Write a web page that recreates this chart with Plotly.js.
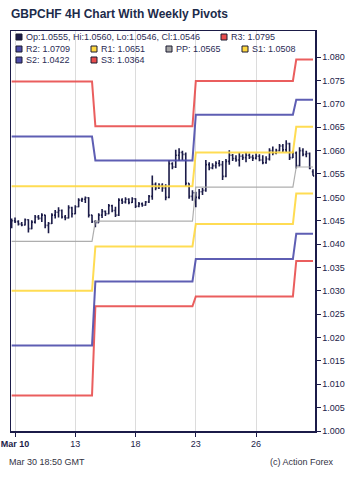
<!DOCTYPE html>
<html>
<head>
<meta charset="utf-8">
<script src="https://cdn.plot.ly/plotly-3.0.1.min.js"></script>
<style>html,body{margin:0;padding:0;background:#fff;}#chart{width:350px;height:481px;}</style>
</head>
<body>
<div id="chart"></div>
<script>
// ---- Data (GBPCHF 4H bars, first bar = Mar 9 20:00, index 0 = Mar 10 00:00) ----
var firstBarIndex = -1;
var opens = [1.0438,1.0450,1.0448,1.0443,1.0441,1.0452,1.0433,1.0447,1.0458,1.0455,1.0462,1.0440,1.0444,1.0462,1.0468,1.0472,1.0458,1.0456,1.0478,1.0465,1.0480,1.0494,1.0496,1.0499,1.0462,1.0448,1.0446,1.0462,1.0470,1.0465,1.0482,1.0472,1.0462,1.0494,1.0490,1.0496,1.0489,1.0497,1.0481,1.0486,1.0483,1.0490,1.0502,1.0528,1.0520,1.0526,1.0520,1.0500,1.0572,1.0565,1.0590,1.0596,1.0592,1.0530,1.0502,1.0510,1.0500,1.0512,1.0515,1.0570,1.0563,1.0568,1.0573,1.0570,1.0545,1.0577,1.0590,1.0583,1.0580,1.0588,1.0585,1.0590,1.0586,1.0584,1.0588,1.0580,1.0574,1.0582,1.0600,1.0595,1.0600,1.0610,1.0602,1.0615,1.0585,1.0595,1.0568,1.0600,1.0592,1.0594,1.0555];
var highs = [1.0455,1.0457,1.0451,1.0447,1.0455,1.0453,1.0451,1.0462,1.0462,1.0466,1.0463,1.0447,1.0466,1.0473,1.0479,1.0474,1.0462,1.0483,1.0480,1.0483,1.0498,1.0499,1.0502,1.0500,1.0463,1.0451,1.0466,1.0475,1.0472,1.0486,1.0484,1.0480,1.0498,1.0498,1.0500,1.0498,1.0500,1.0498,1.0490,1.0489,1.0492,1.0505,1.0547,1.0532,1.0530,1.0530,1.0528,1.0580,1.0575,1.0602,1.0605,1.0600,1.0596,1.0530,1.0515,1.0512,1.0518,1.0520,1.0580,1.0575,1.0573,1.0577,1.0580,1.0578,1.0582,1.0601,1.0593,1.0590,1.0596,1.0592,1.0596,1.0594,1.0591,1.0594,1.0592,1.0590,1.0588,1.0605,1.0609,1.0604,1.0614,1.0614,1.0622,1.0617,1.0600,1.0598,1.0607,1.0605,1.0600,1.0596,1.0560];
var lows = [1.0434,1.0445,1.0440,1.0438,1.0440,1.0425,1.0432,1.0444,1.0452,1.0447,1.0434,1.0423,1.0443,1.0455,1.0457,1.0455,1.0451,1.0455,1.0457,1.0464,1.0479,1.0490,1.0488,1.0457,1.0445,1.0436,1.0446,1.0456,1.0460,1.0464,1.0468,1.0458,1.0460,1.0486,1.0487,1.0485,1.0488,1.0477,1.0479,1.0480,1.0482,1.0488,1.0495,1.0515,1.0518,1.0512,1.0494,1.0498,1.0560,1.0563,1.0578,1.0580,1.0524,1.0497,1.0493,1.0479,1.0496,1.0505,1.0512,1.0558,1.0560,1.0562,1.0566,1.0537,1.0543,1.0570,1.0578,1.0576,1.0566,1.0580,1.0575,1.0582,1.0578,1.0581,1.0577,1.0571,1.0572,1.0579,1.0590,1.0592,1.0598,1.0597,1.0597,1.0580,1.0584,1.0562,1.0566,1.0588,1.0586,1.0560,1.0546];
var closes = [1.0450,1.0448,1.0443,1.0441,1.0452,1.0433,1.0447,1.0458,1.0455,1.0462,1.0440,1.0444,1.0462,1.0468,1.0472,1.0458,1.0456,1.0478,1.0465,1.0480,1.0494,1.0496,1.0499,1.0462,1.0448,1.0446,1.0462,1.0470,1.0465,1.0482,1.0472,1.0462,1.0494,1.0490,1.0496,1.0489,1.0497,1.0481,1.0486,1.0483,1.0490,1.0502,1.0528,1.0520,1.0526,1.0520,1.0500,1.0572,1.0565,1.0590,1.0596,1.0592,1.0530,1.0502,1.0510,1.0500,1.0512,1.0515,1.0570,1.0563,1.0568,1.0573,1.0570,1.0545,1.0577,1.0590,1.0583,1.0580,1.0588,1.0585,1.0590,1.0586,1.0584,1.0588,1.0580,1.0574,1.0582,1.0600,1.0595,1.0600,1.0610,1.0602,1.0615,1.0585,1.0595,1.0568,1.0600,1.0592,1.0594,1.0562,1.0546];

// Weekly pivot levels (weeks starting Mar 9, Mar 16, Mar 23, Mar 30)
var weekStartBar = [-1, 24, 54, 84];
var pivR3 = [1.0748, 1.0652, 1.0749, 1.0795];
var pivR2 = [1.0630, 1.0579, 1.0677, 1.0709];
var pivR1 = [1.0524, 1.0524, 1.0596, 1.0651];
var pivPP = [1.0406, 1.0449, 1.0522, 1.0565];
var pivS1 = [1.0300, 1.0395, 1.0443, 1.0508];
var pivS2 = [1.0183, 1.0320, 1.0368, 1.0422];
var pivS3 = [1.0076, 1.0267, 1.0288, 1.0364];

var tickBars = [0, 18, 36, 54, 72];
var tickLabels = ['<b>Mar 10</b>', '13', '18', '23', '26'];
var priceTicks = [1.000, 1.005, 1.010, 1.015, 1.020, 1.025, 1.030, 1.035, 1.040, 1.045, 1.050, 1.055, 1.060, 1.065, 1.070, 1.075, 1.080];

var legendOHLC = 'Op:1.0555, Hi:1.0560, Lo:1.0546, Cl:1.0546';

// ---- Build ----
var xs = [];
for (var i = 0; i < opens.length; i++) xs.push(firstBarIndex + i);

function weekOf(b) {
  var w = 0;
  for (var k = 0; k < weekStartBar.length; k++) if (b >= weekStartBar[k]) w = k;
  return w;
}
function levelSeries(arr) {
  return xs.map(function (b) { return arr[weekOf(b)]; });
}

var RED = '#e84c4c', BLUE = '#4d4dab', YEL = '#ffd840', GRAY = '#a5a5a5', DARK = '#1b1b48';

function lineTrace(arr, color, width) {
  return { type: 'scatter', mode: 'lines', x: xs, y: levelSeries(arr),
    line: { color: color, width: width }, opacity: 0.9, hoverinfo: 'skip', showlegend: false };
}

var traces = [
  lineTrace(pivS3, RED, 2), lineTrace(pivS2, BLUE, 2), lineTrace(pivS1, YEL, 2),
  lineTrace(pivPP, GRAY, 1.2),
  lineTrace(pivR1, YEL, 2), lineTrace(pivR2, BLUE, 2), lineTrace(pivR3, RED, 2),
  { type: 'ohlc', x: xs, open: opens, high: highs, low: lows, close: closes,
    increasing: { line: { color: DARK, width: 1.6 } },
    decreasing: { line: { color: DARK, width: 1.6 } },
    tickwidth: 0.35, hoverinfo: 'skip', showlegend: false }
];

// pixel helpers (plot area: x 11..315, y 31..431)
var L = 11, T = 31, W = 304, H = 400;
function px(x) { return (x - L) / W; }
function py(y) { return (T + H - y) / H; }

var TXT = '#2b2b55';
var annotations = [];
var shapes = [];
function addText(x, y, text, opts) {
  opts = opts || {};
  annotations.push({ xref: 'paper', yref: 'paper', x: px(x), y: py(y), text: text,
    showarrow: false, xanchor: opts.xanchor || 'left', yanchor: 'middle',
    font: { family: 'Liberation Sans, Arial, sans-serif', size: opts.size || 9, color: opts.color || TXT } });
}
function addBox(x, y, color) {
  shapes.push({ type: 'rect', xref: 'paper', yref: 'paper',
    x0: px(x), x1: px(x + 6), y0: py(y + 3), y1: py(y - 3),
    fillcolor: color, line: { color: '#1a1a30', width: 1 } });
}

var legendRows = [
  { x: 16, y: 37, color: DARK, text: legendOHLC },
  { x: 221, y: 37, color: RED, text: 'R3: ' + pivR3[3].toFixed(4) },
  { x: 16, y: 49, color: BLUE, text: 'R2: ' + pivR2[3].toFixed(4) },
  { x: 91, y: 49, color: YEL, text: 'R1: ' + pivR1[3].toFixed(4) },
  { x: 166, y: 49, color: GRAY, text: 'PP: ' + pivPP[3].toFixed(4) },
  { x: 242, y: 49, color: YEL, text: 'S1: ' + pivS1[3].toFixed(4) },
  { x: 16, y: 60, color: BLUE, text: 'S2: ' + pivS2[3].toFixed(4) },
  { x: 91, y: 60, color: RED, text: 'S3: ' + pivS3[3].toFixed(4) }
];
legendRows.forEach(function (r) { addBox(r.x, r.y, r.color); addText(r.x + 8, r.y, r.text); });

addText(9, 14, '<b>GBPCHF 4H Chart With Weekly Pivots</b>', { size: 12, color: '#1c2b4a' });
addText(7, 462, 'Mar 30 18:50 GMT', { color: '#333344' });
addText(336, 462, '(c) Action Forex', { color: '#333344', xanchor: 'right' });

var layout = {
  width: 350, height: 481,
  margin: { l: L, r: 350 - L - W, t: T, b: 481 - T - H, pad: 0 },
  paper_bgcolor: '#ffffff', plot_bgcolor: '#ffffff',
  showlegend: false,
  font: { family: 'Liberation Sans, Arial, sans-serif', size: 9, color: DARK },
  xaxis: {
    range: [-1.2, 89.6], tickmode: 'array', tickvals: tickBars, ticktext: tickLabels,
    showgrid: true, gridcolor: '#dcdcdc', gridwidth: 1, zeroline: false,
    showline: true, linecolor: DARK, linewidth: 1.5, mirror: true,
    ticks: 'outside', ticklen: 4, tickcolor: DARK,
    tickfont: { size: 9, color: DARK },
    rangeslider: { visible: false }, fixedrange: true
  },
  yaxis: {
    side: 'right', range: [1.0, 1.0856], tickmode: 'array', tickvals: priceTicks,
    ticktext: priceTicks.map(function (v) { return v.toFixed(3); }),
    showgrid: false, zeroline: false,
    showline: true, linecolor: DARK, linewidth: 1.5, mirror: true,
    ticks: 'outside', ticklen: 4, tickcolor: DARK,
    tickfont: { size: 9, color: DARK }, fixedrange: true
  },
  annotations: annotations,
  shapes: shapes
};

Plotly.newPlot('chart', traces, layout, { staticPlot: true, displayModeBar: false });
</script>
</body>
</html>
